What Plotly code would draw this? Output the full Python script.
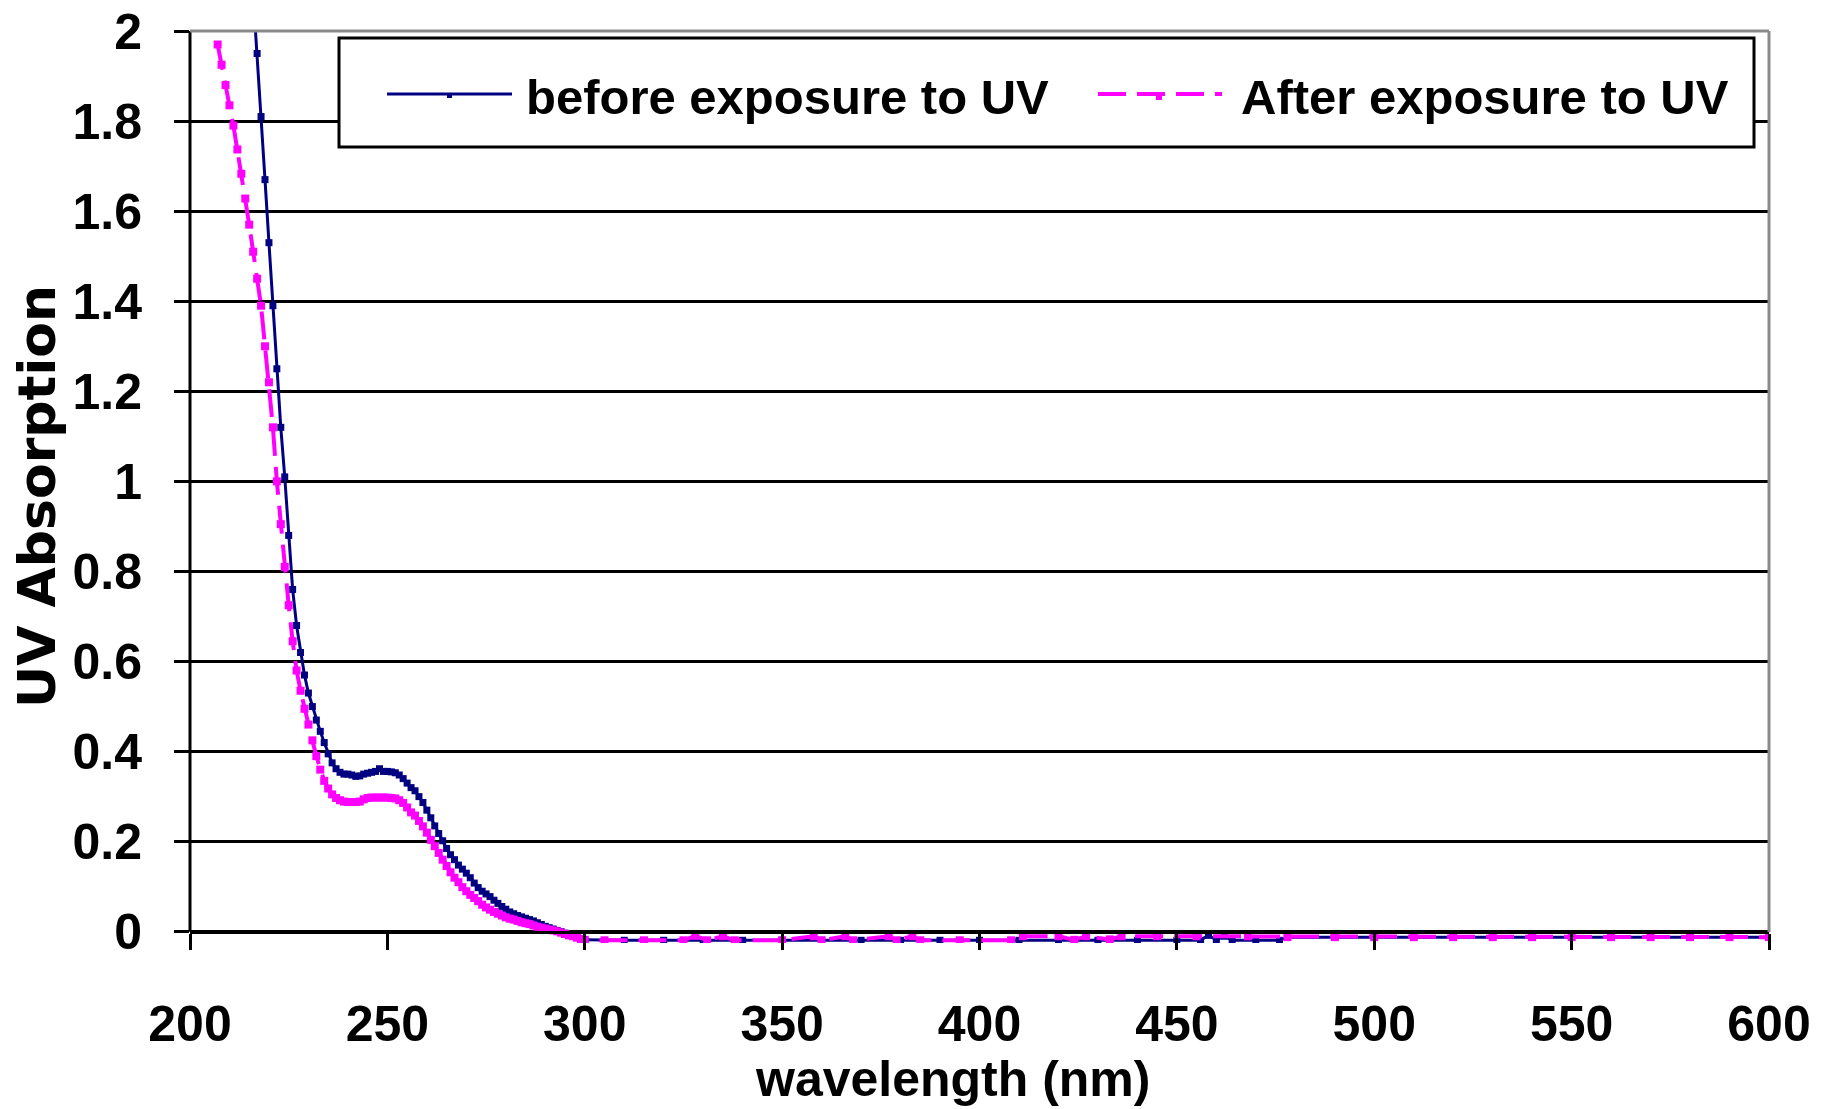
import plotly.graph_objects as go

# ---- spectra: absorbance vs wavelength (nm) ----
# dense 1 nm readings across the absorption edge
before_dense_nm = list(range(216, 301))
before_dense_abs = [
    2.08, 1.95, 1.81, 1.67, 1.53, 1.39, 1.25, 1.12, 1.01, 0.88,
    0.76, 0.68, 0.62, 0.57, 0.53, 0.50, 0.47, 0.445, 0.42, 0.395,
    0.375, 0.362, 0.354, 0.350, 0.350, 0.348, 0.345, 0.346, 0.350, 0.352,
    0.354, 0.356, 0.362, 0.356, 0.356, 0.355, 0.353, 0.348, 0.340, 0.330,
    0.320, 0.313, 0.300, 0.287, 0.270, 0.253, 0.235, 0.218, 0.202, 0.185,
    0.171, 0.160, 0.148, 0.139, 0.130, 0.120, 0.108, 0.098, 0.090, 0.084,
    0.078, 0.070, 0.063, 0.056, 0.050, 0.044, 0.040, 0.036, 0.033, 0.030,
    0.027, 0.024, 0.020, 0.016, 0.012, 0.009, 0.006, 0.003, 0.000, -0.003,
    -0.007, -0.010, -0.013, -0.016, -0.018,
]
# flat baseline beyond the edge
before_tail_nm = [310, 320, 330, 340, 350, 360, 370, 380, 390, 400, 410, 420,
                  430, 440, 450, 456, 458, 460, 462, 464, 470, 476, 478, 490,
                  500, 510, 520, 530, 540, 550, 560, 570, 580, 590, 600]
before_tail_abs = [-0.019, -0.019, -0.019, -0.019, -0.019, -0.019, -0.019,
                   -0.019, -0.019, -0.019, -0.019, -0.019, -0.019, -0.019,
                   -0.019, -0.019, -0.008, -0.018, -0.010, -0.019, -0.019,
                   -0.019, -0.012, -0.012, -0.012, -0.012, -0.012, -0.012,
                   -0.012, -0.012, -0.012, -0.012, -0.012, -0.012, -0.012]

after_dense_nm = list(range(205, 301))
after_dense_abs = [
    2.06, 2.013, 1.97, 1.925, 1.88, 1.835, 1.79, 1.737, 1.683, 1.628,
    1.57, 1.51, 1.45, 1.39, 1.30, 1.22, 1.12, 1.00, 0.905, 0.81,
    0.725, 0.645, 0.58, 0.535, 0.495, 0.46, 0.425, 0.39, 0.36, 0.335,
    0.318, 0.305, 0.297, 0.292, 0.289, 0.288, 0.288, 0.288, 0.289, 0.294,
    0.297, 0.298, 0.298, 0.298, 0.298, 0.298, 0.297, 0.296, 0.292, 0.286,
    0.276, 0.265, 0.258, 0.246, 0.234, 0.220, 0.204, 0.190, 0.175, 0.160,
    0.146, 0.132, 0.120, 0.110, 0.099, 0.090, 0.082, 0.075, 0.068, 0.060,
    0.054, 0.049, 0.044, 0.040, 0.036, 0.032, 0.029, 0.027, 0.024, 0.021,
    0.019, 0.017, 0.014, 0.011, 0.009, 0.007, 0.005, 0.003, 0.001, -0.002,
    -0.005, -0.008, -0.010, -0.013, -0.016, -0.018,
]
after_tail_nm = [305, 315, 325, 328, 331, 335, 338, 350, 358, 360, 366, 368,
                 377, 379, 383, 385, 395, 408, 411, 420, 424, 427, 433, 436,
                 445, 455, 468, 478, 490, 500, 510, 520, 530, 540, 550, 560,
                 570, 580, 590, 600]
after_tail_abs = [-0.019, -0.019, -0.019, -0.009, -0.019, -0.010, -0.019,
                  -0.019, -0.010, -0.019, -0.010, -0.019, -0.010, -0.019,
                  -0.010, -0.019, -0.019, -0.019, -0.010, -0.010, -0.018,
                  -0.010, -0.017, -0.010, -0.010, -0.010, -0.010, -0.012,
                  -0.012, -0.012, -0.012, -0.012, -0.012, -0.012, -0.012,
                  -0.012, -0.012, -0.012, -0.012, -0.012]

series_names = ["before exposure to UV", "After exposure to UV"]

x_ticks = [200, 250, 300, 350, 400, 450, 500, 550, 600]
x_ticktext = ["200", "250", "300", "350", "400", "450", "500", "550", "600"]
y_ticks = [0, 0.2, 0.4, 0.6, 0.8, 1, 1.2, 1.4, 1.6, 1.8, 2]
y_ticktext = ["0", "0.2", "0.4", "0.6", "0.8", "1", "1.2", "1.4", "1.6", "1.8", "2"]

NAVY = "#000080"
MAGENTA = "#FF00FF"

# ---- page geometry ----
W, H = 1825, 1109
L, R, T, B = 190, 56, 31, 166
Y_MIN, Y_MAX = -0.025, 2.0


def px_x(p):
    return (p - L) / (W - L - R)


def px_y(p):
    return (H - B - p) / (H - T - B)


fig = go.Figure()

fig.add_trace(go.Scatter(
    x=before_dense_nm + before_tail_nm,
    y=before_dense_abs + before_tail_abs,
    mode="lines+markers",
    name=series_names[0],
    line=dict(color=NAVY, width=3),
    marker=dict(symbol="square", size=7, color=NAVY),
    showlegend=False,
))
fig.add_trace(go.Scatter(
    x=after_dense_nm + after_tail_nm,
    y=after_dense_abs + after_tail_abs,
    mode="lines+markers",
    name=series_names[1],
    line=dict(color=MAGENTA, width=4, dash="28px,11px"),
    marker=dict(symbol="square", size=8, color=MAGENTA),
    showlegend=False,
))

tick_font_x = dict(family="Liberation Sans, Arial", size=50, color="black",
                   weight="bold")
tick_font_y = dict(family="Liberation Sans, Arial", size=50, color="black",
                   weight="bold")

fig.update_layout(
    width=W, height=H,
    margin=dict(l=L, r=R, t=T, b=B),
    paper_bgcolor="white",
    plot_bgcolor="white",
    showlegend=False,
    xaxis=dict(
        range=[200, 600],
        tickvals=x_ticks, ticktext=x_ticktext,
        ticks="outside", ticklen=16, tickwidth=3, tickcolor="black",
        showline=True, linecolor="black", linewidth=3,
        showgrid=False, zeroline=False,
        anchor="free", position=(0 - Y_MIN) / (Y_MAX - Y_MIN),
        tickfont=tick_font_x,
        ticklabelstandoff=31,
        automargin=False,
    ),
    yaxis=dict(
        range=[Y_MIN, Y_MAX],
        tickvals=y_ticks, ticktext=y_ticktext,
        ticks="outside", ticklen=15, tickwidth=3, tickcolor="black",
        showline=False, showgrid=True, gridcolor="black", gridwidth=3,
        zeroline=False,
        tickfont=tick_font_y,
        ticklabelstandoff=22,
        automargin=False,
    ),
)

shapes = []
# left axis line from 0 to 2
shapes.append(dict(type="line", xref="paper", yref="y", x0=0, x1=0, y0=0, y1=2,
                   line=dict(color="black", width=3), layer="above"))
# grey plot-area frame on top and right
shapes.append(dict(type="line", xref="paper", yref="paper", x0=0, x1=1, y0=1, y1=1,
                   line=dict(color="#8a8a8a", width=3), layer="above"))
shapes.append(dict(type="line", xref="paper", yref="paper", x0=1, x1=1,
                   y0=px_y(932), y1=1,
                   line=dict(color="#8a8a8a", width=3), layer="above"))
# legend box
shapes.append(dict(type="rect", xref="paper", yref="paper",
                   x0=px_x(339), x1=px_x(1754), y0=px_y(147), y1=px_y(38),
                   line=dict(color="black", width=3), fillcolor="white",
                   layer="above"))
# legend samples
shapes.append(dict(type="line", xref="paper", yref="paper",
                   x0=px_x(387), x1=px_x(512), y0=px_y(94), y1=px_y(94),
                   line=dict(color=NAVY, width=3), layer="above"))
shapes.append(dict(type="rect", xref="paper", yref="paper",
                   x0=px_x(447), x1=px_x(452), y0=px_y(98), y1=px_y(93),
                   line=dict(width=0), fillcolor=NAVY, layer="above"))
shapes.append(dict(type="line", xref="paper", yref="paper",
                   x0=px_x(1098), x1=px_x(1222), y0=px_y(94), y1=px_y(94),
                   line=dict(color=MAGENTA, width=4, dash="28px,11px"),
                   layer="above"))
shapes.append(dict(type="rect", xref="paper", yref="paper",
                   x0=px_x(1156), x1=px_x(1162), y0=px_y(100), y1=px_y(93),
                   line=dict(width=0), fillcolor=MAGENTA, layer="above"))
fig.update_layout(shapes=shapes)

legend_font = dict(family="Liberation Sans, Arial", size=49, color="black",
                   weight="bold")
annotations = [
    dict(text=series_names[0], x=px_x(524), y=px_y(97), xref="paper",
         yref="paper", xanchor="left", yanchor="middle", showarrow=False,
         font=legend_font),
    dict(text=series_names[1], x=px_x(1239), y=px_y(97), xref="paper",
         yref="paper", xanchor="left", yanchor="middle", showarrow=False,
         font=legend_font),
    dict(text="wavelength (nm)", x=px_x(952), y=px_y(1049), xref="paper",
         yref="paper", xanchor="center", yanchor="top", showarrow=False,
         font=dict(family="Liberation Sans, Arial", size=50, color="black",
                   weight="bold")),
    dict(text="UV Absorption", x=px_x(37), y=px_y(497), xref="paper",
         yref="paper", xanchor="center", yanchor="middle", showarrow=False,
         textangle=-90,
         font=dict(family="DejaVu Sans", size=52, color="black",
                   weight="bold")),
]
fig.update_layout(annotations=annotations)

fig.write_html("out.html")
